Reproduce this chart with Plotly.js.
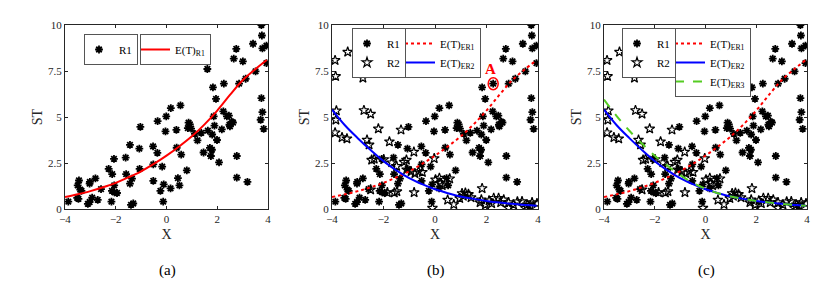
<!DOCTYPE html>
<html><head><meta charset="utf-8">
<script src="https://cdn.plot.ly/plotly-3.0.1.min.js"></script>
<style>html,body{margin:0;padding:0;background:#fff}#chart{width:836px;height:304px}</style>
</head><body><div id="chart"></div>
<script>
// R1 samples (asterisks)
const r1X = [-3.87,-3.52,-3.47,-3.50,-3.45,-3.40,-3.35,-3.10,-3.03,-3.02,-3.03,-2.93,-2.80,-2.71,-2.58,-2.28,-2.14,-2.15,-2.17,-2.07,-2.06,-2.05,-1.95,-1.61,-1.59,-1.44,-1.44,-1.36,-1.40,-1.31,-1.07,-1.06,-1.03,-0.53,-0.52,-0.52,-0.36,-0.35,-0.24,-0.17,-0.13,-0.11,-0.01,-0.04,
  0.17,0.55,0.16,0.45,0.51,0.40,0.39,0.58,0.80,0.87,0.92,0.84,0.97,1.12,1.37,1.22,1.46,1.61,1.63,1.71,1.79,1.75,1.80,1.83,1.86,1.89,1.95,1.99,2.07,2.18,2.24,2.26,2.38,2.46,2.50,2.57,2.62,2.48,2.65,2.75,2.77,2.77,2.86,3.01,3.12,3.19,3.41,3.51,3.74,3.76,3.78,3.94,3.94,3.74,3.78,3.71,3.83];
const r1Y = [0.40,0.60,0.55,1.28,1.55,1.05,0.98,0.28,0.38,1.47,1.38,0.62,1.66,0.50,1.08,2.18,1.90,0.98,0.40,2.72,1.28,0.90,0.87,2.79,1.89,3.49,1.38,1.65,0.22,0.30,3.28,2.18,4.46,3.40,1.53,2.42,3.05,4.78,0.99,2.30,0.40,1.34,5.03,4.22,
  5.48,5.63,1.12,1.68,1.28,3.33,4.30,2.95,2.10,4.69,4.60,4.40,4.37,4.08,4.14,3.73,3.07,7.61,4.26,3.32,3.22,2.88,4.05,6.61,5.03,4.53,5.99,3.75,2.53,4.33,5.31,6.81,5.03,5.07,4.49,4.74,4.70,4.58,8.17,8.70,2.88,1.70,6.81,8.02,7.08,1.47,8.98,7.48,10.0,9.43,8.73,8.88,7.93,6.03,5.27,4.85,4.36];
// R2 samples (stars)
const r2X = [-3.88,-3.39,-3.86,-2.80,-3.83,-3.85,-3.88,-3.61,-3.42,-2.76,-2.50,-2.20,-1.32,-1.77,-2.64,-2.56,-2.46,-2.36,-1.99,-1.68,-1.20,-1.11,-1.49,-0.82,-0.93,-0.78,-0.64,-0.49,-0.03,
  0.17,0.57,0.28,0.02,0.21,-0.81,-1.58,-1.48,-1.85,-2.50,-0.10,0.49,0.73,0.96,1.05,1.18,1.30,1.40,1.10,1.83,1.80,1.96,1.75,2.10,2.28,2.47,2.67,2.86,3.05,3.38,3.58,3.77,3.96,3.51,2.86,2.55,3.20,3.70,2.20,-1.10];
const r2Y = [8.08,8.53,7.21,7.12,5.34,4.84,4.15,3.89,3.82,5.36,5.16,4.36,4.30,3.66,3.75,3.49,2.66,2.72,2.69,2.52,2.55,2.66,2.32,3.10,2.04,1.93,2.04,2.00,2.75,
  1.68,1.65,1.28,1.59,1.40,0.90,0.88,0.95,0.90,1.05,0.05,0.49,0.25,0.58,0.85,0.87,0.80,0.62,0.70,1.12,0.50,0.23,0.35,0.45,0.59,0.59,0.50,0.35,0.23,0.41,0.23,0.35,0.30,0.05,0.05,0.35,0.40,0.20,0.30,2.14];
// fitted curves
const curveX = [-4,-3.5,-3,-2.5,-2,-1.5,-1,-0.5,0,0.5,1,1.5,2,2.5,3,3.5,3.95];
const er1Y = [0.65,0.80,0.97,1.18,1.42,1.72,2.05,2.45,2.90,3.40,3.95,4.60,5.35,6.20,7.00,7.60,8.10];
const er2Y = [5.40,4.55,3.85,3.20,2.60,2.10,1.68,1.35,1.07,0.86,0.68,0.55,0.44,0.35,0.28,0.22,0.18];
const er3Y = [5.95,5.05,4.25,3.55,2.90,2.35,1.85,1.42,1.10,0.86,0.68,0.55,0.44,0.35,0.28,0.22,0.18];
const xTicks = [-4,-2,0,2,4];
const yTicks = [0,2.5,5,7.5,10];
const yTickText = ['0','2.5','5','7.5','10'];
const panelLabels = ['(a)','(b)','(c)'];

const FONT = '"Liberation Serif", "Times New Roman", serif';
const W = 836, H = 304;
const panels = [[65,268],[332,538],[604,807]];
const plotTop = 25, plotBot = 209;

const ast = (xa, ya, lg, show) => ({x:r1X, y:r1Y, xaxis:xa, yaxis:ya, type:'scatter', mode:'markers', name:'R1', legend:lg, showlegend:show,
  marker:{symbol:'asterisk-open', size:6.5, color:'#000', line:{color:'#111', width:1.8}}});
const star = (xa, ya, lg) => ({x:r2X, y:r2Y, xaxis:xa, yaxis:ya, type:'scatter', mode:'markers', name:'R2', legend:lg,
  marker:{symbol:'star-open', size:7.5, color:'#000', line:{color:'#000', width:1.2}}});
const curve = (yv, xa, ya, lg, name, color, dash) => ({x:curveX, y:yv, xaxis:xa, yaxis:ya, type:'scatter', mode:'lines', name:name, legend:lg,
  line:{color:color, width:2, dash:dash, shape:'spline'}});

const data = [
  ast('x','y','legend',true),
  curve(er1Y,'x','y','legend2','E(T)<sub>R1</sub>','#ff0000','solid'),
  ast('x2','y2','legend3',true), star('x2','y2','legend3'),
  curve(er1Y,'x2','y2','legend4','E(T)<sub>ER1</sub>','#ff0000','dot'),
  curve(er2Y,'x2','y2','legend4','E(T)<sub>ER2</sub>','#0000ff','solid'),
  ast('x3','y3','legend5',true), star('x3','y3','legend5'),
  curve(er1Y,'x3','y3','legend6','E(T)<sub>ER1</sub>','#ff0000','dot'),
  curve(er2Y,'x3','y3','legend6','E(T)<sub>ER2</sub>','#0000ff','solid'),
  curve(er3Y,'x3','y3','legend6','E(T)<sub>ER3</sub>','#55cc22','dash')
];

const axBase = {
  showline:true, mirror:'ticks', linecolor:'#262626', linewidth:1,
  ticks:'inside', ticklen:3, tickcolor:'#262626', showgrid:false, zeroline:false,
  tickfont:{family:FONT, size:11, color:'#262626'}
};
const layout = {
  width:W, height:H, margin:{l:0,r:0,t:0,b:0}, paper_bgcolor:'#fff', plot_bgcolor:'#fff',
  font:{family:FONT, color:'#262626'}, showlegend:true,
  annotations:[], shapes:[]
};
const yd = [(H-plotBot)/H, (H-plotTop)/H];
panels.forEach((p,i) => {
  const s = i===0 ? '' : String(i+1);
  layout['xaxis'+s] = Object.assign({}, axBase, {domain:[p[0]/W, p[1]/W], range:[-4,4], tickvals:xTicks,
    anchor:'y'+s, title:{text:'X', font:{family:FONT, size:14, color:'#262626'}, standoff:4}});
  layout['yaxis'+s] = Object.assign({}, axBase, {domain:yd, range:[0,10], tickvals:yTicks, ticktext:yTickText,
    anchor:'x'+s, title:{text:'ST', font:{family:FONT, size:14, color:'#262626'}, standoff:2}});
  layout.annotations.push({text:panelLabels[i], xref:'paper', yref:'paper', x:((p[0]+p[1])/2+1)/W, y:(H-260)/H,
    xanchor:'center', yanchor:'top', showarrow:false, font:{family:FONT, size:15, color:'#000'}});
});
const lg = (x, y) => ({x:x/W, y:(H-y)/H, xanchor:'left', yanchor:'top', bgcolor:'#fff', bordercolor:'#555', borderwidth:1,
  font:{family:FONT, size:11, color:'#000'}, tracegroupgap:0, itemwidth:30, traceorder:'normal', indentation:-6});
layout.legend = lg(84,34);
layout.legend2 = lg(140,34);
layout.legend3 = lg(352,28);
layout.legend4 = lg(405,28);
layout.legend5 = lg(622,28);
layout.legend6 = lg(675,28);

layout.annotations.push({text:'<b>A</b>', xref:'x2', yref:'y2', x:2.17, y:7.63, showarrow:false,
  font:{family:FONT, size:15, color:'#ff0000'}});
layout.shapes.push({type:'circle', xref:'x2', yref:'y2', xsizemode:'pixel', ysizemode:'pixel', xanchor:2.26, yanchor:6.81,
  x0:-5, x1:5, y0:-6, y1:6, line:{color:'#ff0000', width:1.5}});

Plotly.newPlot('chart', data, layout, {displayModeBar:false, staticPlot:true});
</script></body></html>
